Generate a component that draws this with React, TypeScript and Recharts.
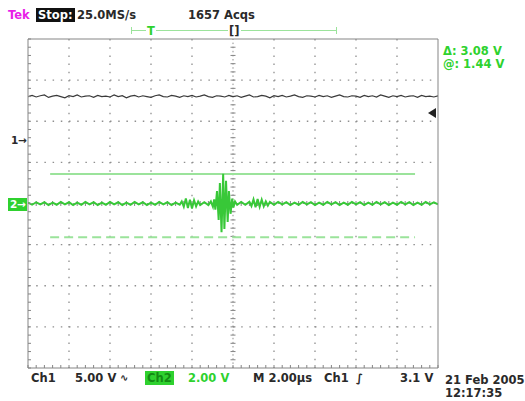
import React from "react";
import { LineChart, Line, XAxis, YAxis, CartesianGrid, ReferenceLine } from "recharts";

// screen is 10 x 8 divisions; all values below are in divisions
const xTicks = Array.from({ length: 51 }, (_, i) => i * 0.2);
const yTicks = Array.from({ length: 41 }, (_, i) => -4 + i * 0.2);
const gridX = [1, 2, 3, 4, 6, 7, 8, 9];
const gridY = [-3, -2, -1, 1, 2, 3];

// ch1 trace, one sample every 0.1 div
const ch1Values = [
  2.6, 2.63, 2.59, 2.62, 2.64, 2.58, 2.61, 2.63, 2.6, 2.57,
  2.62, 2.6, 2.64, 2.59, 2.61, 2.62, 2.58, 2.63, 2.6, 2.61,
  2.59, 2.64, 2.6, 2.62, 2.57, 2.61, 2.63, 2.59, 2.62, 2.6,
  2.58, 2.62, 2.64, 2.6, 2.59, 2.63, 2.61, 2.58, 2.62, 2.6,
  2.63, 2.59, 2.61, 2.64, 2.6, 2.58, 2.62, 2.61, 2.59, 2.63,
  2.6, 2.62, 2.58, 2.61, 2.64, 2.59, 2.6, 2.63, 2.61, 2.57,
  2.62, 2.6, 2.63, 2.59, 2.61, 2.64, 2.6, 2.58, 2.62, 2.61,
  2.59, 2.63, 2.6, 2.62, 2.58, 2.61, 2.64, 2.6, 2.59, 2.62,
  2.61, 2.58, 2.63, 2.6, 2.62, 2.59, 2.64, 2.61, 2.58, 2.62,
  2.6, 2.63, 2.59, 2.61, 2.62, 2.58, 2.63, 2.6, 2.61, 2.59, 2.62,
];

// ch2 trace, [time div, level div]
const ch2Samples: [number, number][] = [
  [0, 0.02], [0.1, -0.03], [0.2, 0.03], [0.3, -0.02], [0.4, 0.03], [0.5, -0.04], [0.6, 0.02], [0.7, -0.03], [0.8, 0.04], [0.9, -0.02],
  [1.0, 0.03], [1.1, -0.04], [1.2, 0.02], [1.3, -0.03], [1.4, 0.04], [1.5, -0.02], [1.6, 0.03], [1.7, -0.04], [1.8, 0.02], [1.9, -0.03],
  [2.0, 0.04], [2.1, -0.02], [2.2, 0.03], [2.3, -0.04], [2.4, 0.02], [2.5, -0.03], [2.6, 0.04], [2.7, -0.02], [2.8, 0.03], [2.9, -0.04],
  [3.0, 0.02], [3.1, -0.03], [3.2, 0.04], [3.3, -0.02], [3.4, 0.03], [3.5, -0.04], [3.6, 0.02], [3.7, -0.03],
  [3.75, 0.05], [3.8, -0.08], [3.85, 0.12], [3.9, -0.11], [3.95, 0.09], [4.0, -0.12], [4.05, 0.08], [4.1, -0.07], [4.15, 0.05], [4.2, -0.04],
  [4.3, 0.03], [4.4, -0.04], [4.46, 0.05], [4.51, -0.08], [4.54, 0.1],
  [4.57, -0.15], [4.61, 0.3], [4.65, -0.4], [4.68, 0.5], [4.72, -0.7], [4.76, 0.72], [4.79, -0.62], [4.83, 0.55], [4.87, -0.45], [4.9, 0.3], [4.94, -0.25], [4.98, 0.12], [5.01, -0.1],
  [5.05, 0.05], [5.1, -0.03], [5.2, 0.04], [5.3, -0.03], [5.4, 0.04],
  [5.45, -0.06], [5.5, 0.1], [5.55, -0.09], [5.6, 0.11], [5.65, -0.08], [5.7, 0.09], [5.75, -0.07], [5.8, 0.05], [5.85, -0.05], [5.9, 0.04],
  [6.0, -0.03], [6.1, 0.04], [6.2, -0.02], [6.3, 0.03], [6.4, -0.04], [6.5, 0.02], [6.6, -0.03], [6.7, 0.04], [6.8, -0.02], [6.9, 0.03],
  [7.0, -0.04], [7.1, 0.02], [7.2, -0.03], [7.3, 0.04], [7.4, -0.02], [7.5, 0.03], [7.6, -0.04], [7.7, 0.02], [7.8, -0.03], [7.9, 0.04],
  [8.0, -0.02], [8.1, 0.03], [8.2, -0.04], [8.3, 0.02], [8.4, -0.03], [8.5, 0.04], [8.6, -0.02], [8.7, 0.03], [8.8, -0.04], [8.9, 0.02],
  [9.0, -0.03], [9.1, 0.04], [9.2, -0.02], [9.3, 0.03], [9.4, -0.04], [9.5, 0.02], [9.6, -0.03], [9.7, 0.04], [9.8, -0.02], [9.9, 0.03], [10, -0.02],
];

// horizontal cursors (div)
const cursorA = 0.72;
const cursorB = -0.82;
const cursorFrom = 0.54;
const cursorTo = 9.44;

const ch1Data = ch1Values.map((v, i) => ({ t: i * 0.1, v }));
const ch2Data = ch2Samples.map(([t, v]) => ({ t, v }));

const GRID = "#8f8f8f";
const FRAME = "#858585";
const GREEN = "#38c838";
const LIGHT_GREEN = "#9be39b";
const TXT_GREEN = "#2ed22e";
const FONT = "'DejaVu Sans', sans-serif";

const blank = () => "";

function CenterLine(props: any) {
  const { x1, y1, x2, y2 } = props;
  const vertical = Math.abs(x1 - x2) < 1;
  const n = vertical ? 40 : 50;
  const ticks = [];
  for (let i = 1; i < n; i++) {
    const x = x1 + ((x2 - x1) * i) / n;
    const y = y1 + ((y2 - y1) * i) / n;
    ticks.push(
      vertical ? (
        <line key={i} x1={x - 2.5} x2={x + 2.5} y1={y} y2={y} stroke={FRAME} />
      ) : (
        <line key={i} x1={x} x2={x} y1={y - 2.5} y2={y + 2.5} stroke={FRAME} />
      )
    );
  }
  return (
    <g>
      <line x1={x1} y1={y1} x2={x2} y2={y2} stroke={GRID} strokeDasharray="1.5 2.6" />
      {ticks}
    </g>
  );
}

const txt = (x: number, y: number, s: string, extra: React.CSSProperties = {}) => (
  <div
    style={{
      position: "absolute",
      left: x,
      top: y,
      fontFamily: FONT,
      fontWeight: "bold",
      fontSize: 11.5,
      color: "#2a2a2a",
      whiteSpace: "nowrap",
      lineHeight: "14px",
      ...extra,
    }}
  >
    {s}
  </div>
);

export default function App() {
  return (
    <div style={{ position: "absolute", left: 0, top: 0, width: 525, height: 401, background: "#fff", overflow: "hidden" }}>
      <LineChart
        width={525}
        height={401}
        margin={{ top: 39, right: 87, bottom: 33, left: 28 }}
      >
        <CartesianGrid
          xAxisId="b"
          yAxisId="l"
          stroke={GRID}
          strokeWidth={1.3}
          strokeDasharray="1.5 6.7"
          vertical
          horizontal
          horizontalValues={gridY}
          verticalValues={gridX}
        />
        <XAxis
          xAxisId="b"
          type="number"
          dataKey="t"
          domain={[0, 10]}
          ticks={xTicks}
          interval={0}
          mirror
          tickSize={3}
          tickFormatter={blank}
          stroke={FRAME}
          allowDataOverflow
        />
        <XAxis
          xAxisId="t"
          orientation="top"
          type="number"
          dataKey="t"
          domain={[0, 10]}
          ticks={xTicks}
          interval={0}
          mirror
          tickSize={3}
          tickFormatter={blank}
          stroke={FRAME}
        />
        <YAxis
          yAxisId="l"
          type="number"
          domain={[-4, 4]}
          ticks={yTicks}
          interval={0}
          mirror
          tickSize={3}
          tickFormatter={blank}
          stroke={FRAME}
          allowDataOverflow
        />
        <YAxis
          yAxisId="r"
          orientation="right"
          type="number"
          domain={[-4, 4]}
          ticks={yTicks}
          interval={0}
          mirror
          tickSize={3}
          tickFormatter={blank}
          stroke={FRAME}
        />
        <ReferenceLine xAxisId="b" yAxisId="l" x={5} shape={(p: any) => <CenterLine {...p} />} />
        <ReferenceLine xAxisId="b" yAxisId="l" y={0} shape={(p: any) => <CenterLine {...p} />} />
        <ReferenceLine
          xAxisId="b"
          yAxisId="l"
          segment={[{ x: cursorFrom, y: cursorA }, { x: cursorTo, y: cursorA }]}
          stroke={LIGHT_GREEN}
          strokeWidth={2}
        />
        <ReferenceLine
          xAxisId="b"
          yAxisId="l"
          segment={[{ x: cursorFrom, y: cursorB }, { x: cursorTo, y: cursorB }]}
          stroke={LIGHT_GREEN}
          strokeWidth={2}
          strokeDasharray="9 5"
        />
        <Line
          xAxisId="b"
          yAxisId="l"
          data={ch1Data}
          dataKey="v"
          stroke="#3a3a3a"
          strokeWidth={1.2}
          dot={false}
          isAnimationActive={false}
        />
        <Line
          xAxisId="b"
          yAxisId="l"
          data={ch2Data}
          dataKey="v"
          stroke={GREEN}
          strokeWidth={2}
          dot={false}
          isAnimationActive={false}
        />
      </LineChart>

      {/* header */}
      {txt(8, 8, "Tek", { color: "#e81ee8" })}
      {txt(36, 8, "Stop:", { background: "#111", color: "#fff", padding: "0 2px" })}
      {txt(77, 8, "25.0MS/s")}
      {txt(188, 8, "1657 Acqs")}
      <div style={{ position: "absolute", left: 131, top: 30, width: 205, height: 1, background: LIGHT_GREEN }} />
      <div style={{ position: "absolute", left: 131, top: 27, width: 1, height: 7, background: LIGHT_GREEN }} />
      <div style={{ position: "absolute", left: 336, top: 27, width: 1, height: 7, background: LIGHT_GREEN }} />
      {txt(146, 24, "T", { color: TXT_GREEN, background: "#fff", padding: "0 1px" })}
      {txt(228, 24, "[]", { background: "#fff", padding: "0 1px" })}

      {/* right readouts */}
      {txt(443, 44, "Δ: 3.08 V", { color: TXT_GREEN })}
      {txt(443, 57, "@: 1.44 V", { color: TXT_GREEN })}
      <svg style={{ position: "absolute", left: 428, top: 108 }} width={9} height={10}>
        <polygon points="0,5 8,0 8,10" fill="#222" />
      </svg>

      {/* channel markers */}
      {txt(11, 133, "1→", { fontSize: 10.5 })}
      <div
        style={{
          position: "absolute",
          left: 8,
          top: 198,
          width: 19,
          height: 13,
          background: "#2fd12f",
          color: "#fff",
          fontFamily: FONT,
          fontWeight: "bold",
          fontSize: 10.5,
          lineHeight: "13px",
          paddingLeft: 2,
          boxSizing: "border-box",
        }}
      >
        2→
      </div>

      {/* footer */}
      {txt(31, 371, "Ch1")}
      {txt(75, 371, "5.00 V")}
      {txt(120, 371, "∿", { fontSize: 10 })}
      {txt(145, 371, "Ch2", { background: "#2fd12f", color: "#138a13", padding: "0 2px" })}
      {txt(188, 371, "2.00 V", { color: TXT_GREEN })}
      {txt(253, 371, "M 2.00µs")}
      {txt(324, 371, "Ch1")}
      {txt(356, 371, "∫")}
      {txt(400, 371, "3.1 V")}
      {txt(445, 374, "21 Feb 2005", { lineHeight: "13px" })}
      {txt(445, 387, "12:17:35", { lineHeight: "13px" })}
    </div>
  );
}
